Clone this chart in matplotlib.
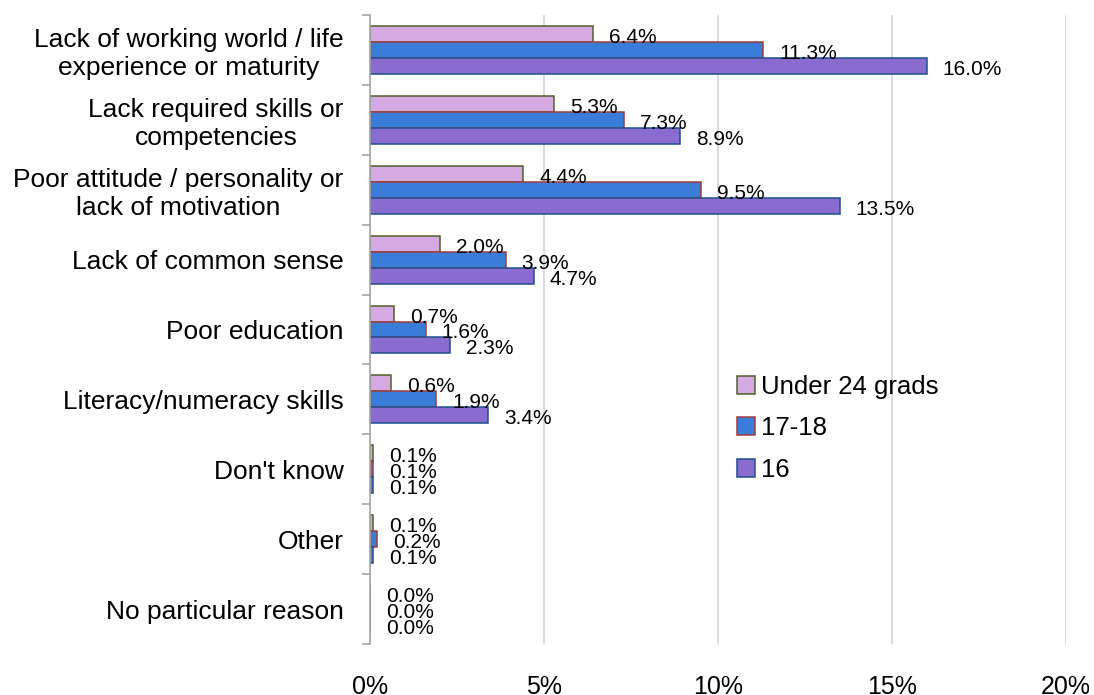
import matplotlib
matplotlib.use("Agg")
import matplotlib.pyplot as plt
import numpy as np
from matplotlib.patches import Patch

plt.rcParams['font.family'] = ['Liberation Sans', 'DejaVu Sans']

categories = [
    "Lack of working world / life\nexperience or maturity",
    "Lack required skills or\ncompetencies",
    "Poor attitude / personality or\nlack of motivation",
    "Lack of common sense",
    "Poor education",
    "Literacy/numeracy skills",
    "Don't know",
    "Other",
    "No particular reason",
]
series_names = ["Under 24 grads", "17-18", "16"]
under24 = [6.4, 5.3, 4.4, 2.0, 0.7, 0.6, 0.1, 0.1, 0.0]
age1718 = [11.3, 7.3, 9.5, 3.9, 1.6, 1.9, 0.1, 0.2, 0.0]
age16 = [16.0, 8.9, 13.5, 4.7, 2.3, 3.4, 0.1, 0.1, 0.0]
x_ticks = [0, 5, 10, 15, 20]
x_tick_labels = ["0%", "5%", "10%", "15%", "20%"]

fills = ["#D5A9E1", "#3A7DD8", "#8A6BD0"]
edges = ["#4F6228", "#A33B3B", "#1F4E8C"]

W, H = 1094, 695
fig = plt.figure(figsize=(W / 100, H / 100), dpi=100)
ax = fig.add_axes([370 / W, 1 - 644 / H, (1066 - 370) / W, (644 - 15) / H])

n = len(categories)
y = np.arange(n)
bh = 0.228
series = [under24, age1718, age16]
offsets = [-bh, 0, bh]
for vals, off, fc, ec in zip(series, offsets, fills, edges):
    ax.barh(y + off, vals, height=bh, color=fc, edgecolor=ec, linewidth=1.1)
    for yi, v in zip(y + off, vals):
        ax.annotate(f"{v:.1f}%", xy=(v, yi), xytext=(16, -9),
                    textcoords="offset pixels", ha="left", va="baseline",
                    fontsize=15, color="black")

ax.set_xlim(0, 20)
ax.set_ylim(n - 0.5, -0.5)
ax.set_xticks(x_ticks)
ax.set_xticklabels(x_tick_labels, fontsize=18)
ax.tick_params(axis="x", length=0, pad=22)
ax.set_yticks(y)
ax.set_yticklabels(categories, fontsize=19, multialignment="center")
ax.tick_params(axis="y", which="major", length=0, pad=19)
ax.set_yticks(np.arange(n + 1) - 0.5, minor=True)
ax.tick_params(axis="y", which="minor", length=6, color="#A6A6A6", width=1.2)

for s in ["top", "right", "bottom"]:
    ax.spines[s].set_visible(False)
ax.spines["left"].set_color("#A6A6A6")
ax.spines["left"].set_linewidth(1.2)
ax.xaxis.grid(True, color="#D9D9D9", linewidth=1.3)
ax.set_axisbelow(True)

handles = [Patch(facecolor=fc, edgecolor=ec, linewidth=1.1, label=nm)
           for fc, ec, nm in zip(fills, edges, series_names)]
fig.legend(handles=handles, loc="upper left", bbox_to_anchor=(724 / W, 1 - 362 / H),
           frameon=False, fontsize=18.5, handlelength=0.7, handleheight=0.7,
           handletextpad=0.25, labelspacing=0.68, borderpad=0)

fig.savefig("out.png", dpi=100)
